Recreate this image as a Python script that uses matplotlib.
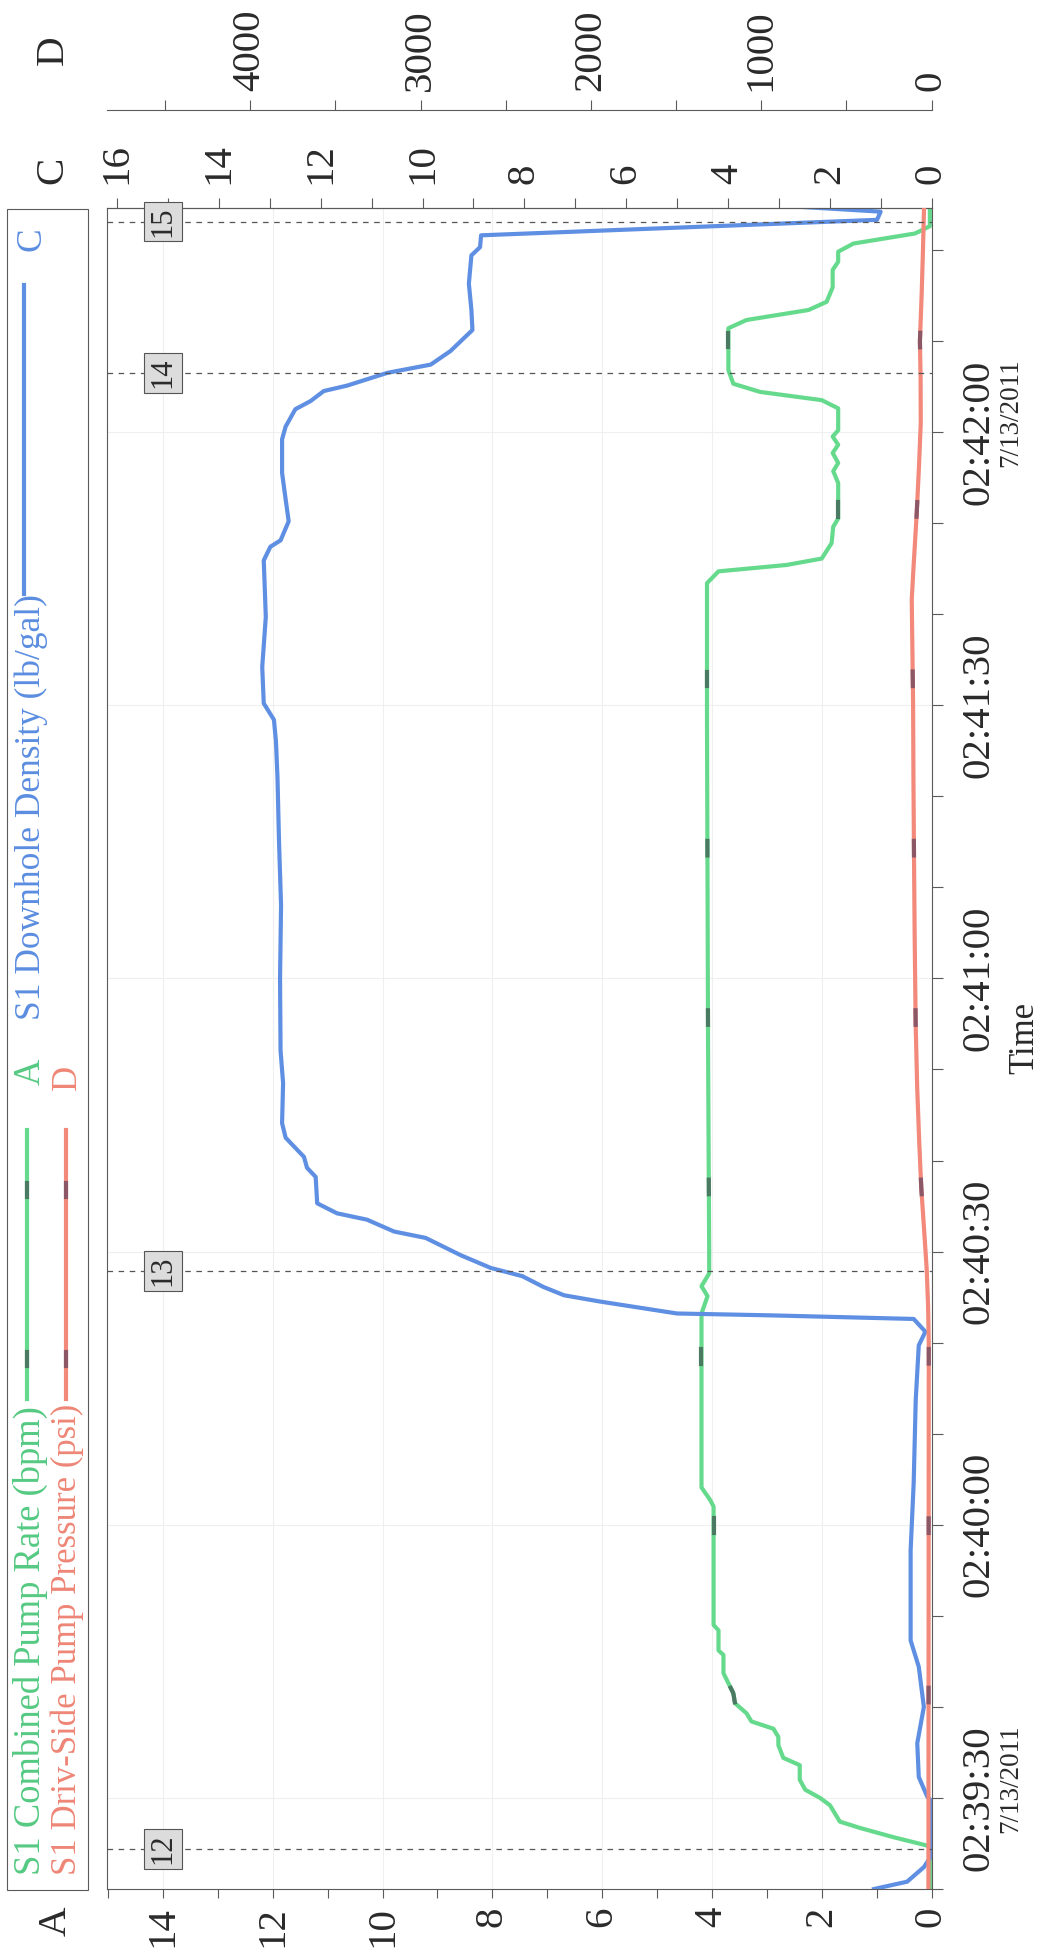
import numpy as np
import matplotlib
matplotlib.use('Agg')
import matplotlib.pyplot as plt
from matplotlib.ticker import MultipleLocator
from matplotlib.transforms import blended_transform_factory, offset_copy
from matplotlib.patches import Rectangle
from matplotlib.lines import Line2D

plt.rcParams['font.family'] = ['Liberation Serif', 'DejaVu Serif']
plt.rcParams['lines.scale_dashes'] = False

# time axis: seconds after 02:39:20 on 7/13/2011
rate_t = [0, 4.5, 4.8, 5.7, 6.7, 7.4, 9.2, 10.0, 10.9, 12.0, 13.6, 14.4, 15.8, 16.7,
          17.6, 18.4, 19.3, 20.4, 21.5, 23.7, 25.7, 26.2, 28.4, 29.0, 42.0, 42.7,
          44.1, 63.2, 65.1, 66.2, 67.6, 70.2, 92.0, 110.0, 128.4, 143.4, 144.7,
          145.4, 146.1, 147.8, 149.6, 150.5, 154.4, 155.7, 156.6, 157.7, 158.6,
          159.5, 160.2, 162.6, 163.5, 164.4, 165.3, 166.8, 171.4, 172.3, 173.4,
          174.3, 175.9, 177.8, 178.7, 179.8, 180.7, 181.8, 182.6, 184.6]
rate_bpm = [0, 0, 0.10, 0.70, 1.30, 1.67, 1.85, 2.03, 2.30, 2.40, 2.40, 2.70, 2.79, 2.79,
            2.88, 3.28, 3.37, 3.58, 3.61, 3.79, 3.79, 3.88, 3.88, 3.97, 3.97, 4.03,
            4.19, 4.19, 4.08, 4.19, 4.05, 4.05, 4.07, 4.08, 4.09, 4.09, 3.88,
            2.64, 2.00, 1.82, 1.79, 1.70, 1.70, 1.79, 1.70, 1.80, 1.70,
            1.80, 1.70, 1.70, 2.00, 3.12, 3.61, 3.70, 3.70, 3.37, 2.24,
            1.91, 1.80, 1.80, 1.70, 1.70, 1.42, 0.30, 0.03, 0.03]

dens_t = [0, 0.8, 2.4, 3.5, 9.8, 10.1, 12.3, 16.0, 20.0, 24.4, 27.3, 37.2, 44.6, 53.7,
          59.7, 61.2, 62.6, 63.0, 63.2, 64.5, 65.2, 66.1, 67.3, 68.2, 69.6, 71.5,
          72.2, 73.5, 74.2, 75.3, 78.2, 79.2, 80.4, 82.5, 84.1, 88.5, 92.1, 100.0,
          108.0, 115.0, 122.0, 126.0, 128.4, 130.2, 134.2, 139.7, 145.9, 147.4,
          148.1, 150.2, 152.6, 155.5, 159.2, 160.6, 162.5, 163.4, 164.5, 165.1,
          166.5, 167.4, 168.9, 171.2, 173.4, 176.3, 179.4, 180.3, 181.6, 183.3,
          184.2, 184.7]
dens_ppg = [1.13, 0.48, 0.15, 0.02, 0.02, 0.08, 0.25, 0.28, 0.15, 0.25, 0.41, 0.41, 0.35, 0.31,
            0.25, 0.12, 0.35, 3.20, 5.00, 6.50, 7.22, 7.62, 8.04, 8.66, 9.25, 9.94,
            10.56, 11.09, 11.68, 12.07, 12.10, 12.27, 12.33, 12.69, 12.76, 12.74, 12.79, 12.80,
            12.78, 12.82, 12.85, 12.88, 12.92, 13.12, 13.15, 13.08, 13.12, 12.99,
            12.79, 12.63, 12.69, 12.76, 12.76, 12.69, 12.50, 12.20, 11.94, 11.48,
            10.69, 9.84, 9.45, 9.02, 9.04, 9.09, 9.04, 8.87, 8.85, 1.07,
            1.00, 2.50]

pres_t = [0, 60, 64, 68, 72, 77, 82, 88, 95, 105, 114, 122, 130, 136, 141.6, 145,
          151, 156, 161, 166, 170, 175, 180, 184.6]
pres_psi = [18, 16, 20, 28, 42, 60, 72, 84, 93, 99, 103, 106, 108, 112, 116, 106,
            87, 74, 63, 64, 68, 58, 50, 44]

# data-point highlights along the rate and pressure traces
mark_t = [21.8, 40.4, 59.0, 77.6, 96.2, 114.8, 133.4, 152.0, 170.6]

event_t = [4.4, 67.9, 166.5, 183.1]
event_ids = ['12', '13', '14', '15']

time_ticks = [10, 40, 70, 100, 130, 160]
time_labels = ['02:39:30', '02:40:00', '02:40:30', '02:41:00', '02:41:30', '02:42:00']
dated_ticks = [10, 160]
date_text = '7/13/2011'

GREEN, GREEN_DK = '#66da8c', '#4b7a62'
BLUE = '#5f8fe2'
RED, RED_DK = '#f2897b', '#8c5868'
INK, AXC = '#2a2a2a', '#5a5a5a'
TICK_FS = 29.5

W, H = 1046, 1955
L, R, T, B = 107, 931.5, 208, 1889


def fx(px):
    return px / W


def fy(py):
    return 1 - py / H


def axfrac(px):
    return (px - L) / (R - L)


fig = plt.figure(figsize=(W / 100, H / 100), dpi=100)
ax = fig.add_axes([fx(L), fy(B), fx(R) - fx(L), fy(T) - fy(B)])
ax.set_xlim(15.02, 0)
ax.set_ylim(0, 184.6)

ax_c = ax.twiny()
ax_c.set_xlim(16.2, 0)
ax_d = ax.twiny()
ax_d.set_xlim(4841, 0)
ax_d.spines['top'].set_position(('outward', 98 * 0.72))

for a in (ax, ax_c, ax_d):
    for s in a.spines.values():
        s.set_color(AXC)
        s.set_linewidth(0.8)
for a in (ax_c, ax_d):
    for side in ('bottom', 'left', 'right'):
        a.spines[side].set_visible(False)

# A axis along the bottom
ax.xaxis.set_major_locator(MultipleLocator(2))
ax.xaxis.set_minor_locator(MultipleLocator(1))
ax.tick_params(axis='x', which='both', direction='out', length=6.5, width=0.8,
               color=AXC, labelsize=TICK_FS, labelcolor=INK, labelrotation=90, pad=6)

# C axis along the top
ax_c.xaxis.set_major_locator(MultipleLocator(2))
ax_c.xaxis.set_minor_locator(MultipleLocator(1))
ax_c.tick_params(axis='x', which='both', direction='out', length=7, width=0.8,
                 color=AXC, labelsize=TICK_FS, labelcolor=INK, labelrotation=90, pad=10)

# D axis, offset above C
ax_d.xaxis.set_major_locator(MultipleLocator(1000))
ax_d.xaxis.set_minor_locator(MultipleLocator(500))
ax_d.tick_params(axis='x', which='both', direction='out', length=7, width=0.8,
                 color=AXC, labelsize=TICK_FS, labelcolor=INK, labelrotation=90, pad=7)

# time axis on the right
ax.yaxis.tick_right()
ax.set_yticks(time_ticks)
ax.set_yticks(np.arange(0, 185, 10), minor=True)
ax.set_yticklabels([])
ax.tick_params(axis='y', which='both', direction='out', length=8, width=0.8, color=AXC)

ax.grid(True, which='major', color='#efefef', lw=0.8)
ax.set_axisbelow(True)

ytrans = ax.get_yaxis_transform()
for tk, lab in zip(time_ticks, time_labels):
    ax.text(axfrac(989), tk, lab, transform=ytrans, rotation=90, rotation_mode='anchor',
            ha='center', va='baseline', fontsize=TICK_FS, color=INK, clip_on=False)
    if tk in dated_ticks:
        tr = offset_copy(ytrans, fig=fig, x=0, y=74, units='dots')
        ax.text(axfrac(1017), tk, date_text, transform=tr, rotation=90,
                rotation_mode='anchor', ha='right', va='baseline', fontsize=19.5,
                color=INK, clip_on=False)

# traces
ax.plot(rate_bpm, rate_t, color=GREEN, lw=3.0, solid_joinstyle='round')
ax_c.plot(dens_ppg, dens_t, color=BLUE, lw=3.0, solid_joinstyle='round')
ax_d.plot(pres_psi, pres_t, color=RED, lw=3.0, solid_joinstyle='round')

for tm in mark_t:
    seg = np.linspace(tm - 1.3, tm + 0.3, 8)
    ax.plot(np.interp(seg, rate_t, rate_bpm), seg, color=GREEN_DK, lw=3.0)
    ax_d.plot(np.interp(seg, pres_t, pres_psi), seg, color=RED_DK, lw=3.0)

# event markers
etrans = blended_transform_factory(ax_d.transAxes, ax_d.transData)
for et, eid in zip(event_t, event_ids):
    ax_d.axhline(et, color='#555555', lw=0.9, ls=(0, (4, 4)))
    ax_d.text(axfrac(163), et, eid, transform=etrans, rotation=90, ha='center',
              va='center', fontsize=22, color=INK,
              bbox=dict(boxstyle='square,pad=0.15', fc='#dcdcdc', ec='#555555', lw=0.8))

# axis titles
fig.text(fx(53), fy(50), 'D', rotation=90, ha='center', va='center', fontsize=TICK_FS, color=INK)
fig.text(fx(53), fy(170), 'C', rotation=90, ha='center', va='center', fontsize=TICK_FS, color=INK)
fig.text(fx(56), fy(1921), 'A', rotation=90, ha='center', va='center', fontsize=TICK_FS, color=INK)
fig.text(fx(1025), fy(1038), 'Time', rotation=90, ha='center', va='center', fontsize=25, color=INK)

# legend panel
fig.add_artist(Rectangle((fx(7), fy(1890)), fx(88) - fx(7), fy(209) - fy(1890),
                         transform=fig.transFigure, fill=False, ec=AXC, lw=0.8))


def legend_text(x, y, s, color, size, ha='left'):
    fig.text(fx(x), fy(y), s, rotation=90, rotation_mode='anchor', ha=ha,
             va='baseline', color=color, fontsize=size)


def legend_line(x, y0, y1, color, dark=None):
    fig.add_artist(Line2D([fx(x), fx(x)], [fy(y0), fy(y1)], color=color, lw=3.0,
                          transform=fig.transFigure))
    if dark:
        for ym in (1190, 1359):
            fig.add_artist(Line2D([fx(x), fx(x)], [fy(ym + 7), fy(ym - 7)], color=dark,
                                  lw=3.0, transform=fig.transFigure))


legend_text(40, 1875, 'S1 Combined Pump Rate (bpm)', '#55c982', 26.3)
legend_line(27, 1399, 1130, GREEN, GREEN_DK)
legend_text(40, 1072, 'A', '#55c982', 26.3, ha='center')
legend_text(40, 1020, 'S1 Downhole Density (lb/gal)', '#5b8de0', 25.5)
legend_line(24, 594, 285, BLUE)
legend_text(40, 239, 'C', '#5b8de0', 25.5, ha='center')
legend_text(76, 1875, 'S1 Driv-Side Pump Pressure (psi)', '#ee8676', 25.0)
legend_line(66, 1399, 1130, RED, RED_DK)
legend_text(76, 1077, 'D', '#ee8676', 25.0, ha='center')

fig.savefig('out.png', dpi=100)
